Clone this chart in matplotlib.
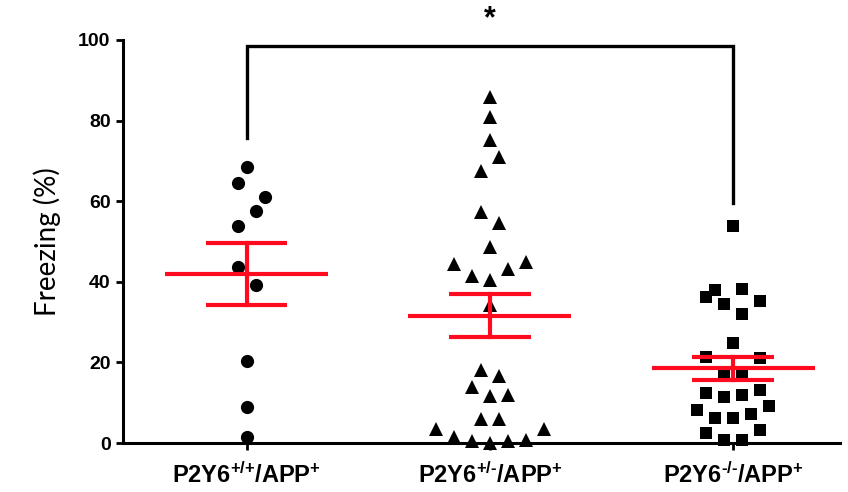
import numpy as np
import matplotlib
matplotlib.use("Agg")
import matplotlib.pyplot as plt

plt.rcParams['font.family'] = ['Liberation Sans', 'DejaVu Sans']
plt.rcParams['mathtext.fontset'] = 'custom'
plt.rcParams['mathtext.bf'] = 'Liberation Sans:bold'
plt.rcParams['mathtext.rm'] = 'Liberation Sans:bold'
plt.rcParams['mathtext.default'] = 'bf'

H = '\u2010'
categories = ["P2Y6$^{{+}{/}{+}}$/APP$^{+}$",
              "P2Y6$^{{+}{/}" + H + "}$/APP$^{+}$",
              "P2Y6$^{" + H + "{/}" + H + "}$/APP$^{+}$"]

wt_vals = [68.6, 64.6, 61.0, 57.6, 53.8, 43.6, 39.3, 20.4, 8.9, 1.4]
wt_off = [0, -1, 2, 1, -1, -1, 1, 0, 0, 0]

het_vals = [85.8, 81.0, 75.2, 70.9, 67.6, 57.4, 54.7, 48.6, 44.4, 45.0, 43.1, 41.4, 40.4,
            34.2, 18.1, 16.6, 14.0, 11.7, 11.8, 5.9, 5.9, 3.4, 3.4, 1.4, 0.6, 0.0, 0.6, 0.7]
het_off = [0, 0, 0, 1, -1, -1, 1, 0, -4, 4, 2, -2, 0,
           0, -1, 1, -2, 0, 2, -1, 1, -6, 6, -4, -2, 0, 2, 4]

ko_vals = [53.8, 38.0, 36.3, 38.3, 34.5, 35.3, 32.0, 24.7, 21.4, 21.1, 17.6, 17.6, 12.5,
           13.2, 11.5, 11.8, 8.2, 9.2, 6.2, 6.2, 7.2, 2.6, 3.2, 0.7, 0.7]
ko_off = [0, -2, -3, 1, -1, 3, 1, 0, -3, 3, -1, 1, -3,
          3, -1, 1, -4, 4, -2, 0, 2, -3, 3, -1, 1]

groups = [wt_vals, het_vals, ko_vals]
offsets = [wt_off, het_off, ko_off]
markers = ['o', '^', 's']
yticks = [0, 20, 40, 60, 80, 100]

fig = plt.figure(figsize=(8.48, 4.92), dpi=100)
ax = fig.add_axes([123/848, 1-443/492, (840-123)/848, (443-40)/492])

step = 0.037
red = '#ff0a1e'
for i, (vals, offs, m) in enumerate(zip(groups, offsets, markers)):
    x = i + 1
    xs = [x + o*step for o in offs]
    ms = 9.5 if m == 'o' else (10 if m == '^' else 9)
    ax.plot(xs, vals, linestyle='none', marker=m, color='black', markersize=ms,
            markeredgewidth=0, clip_on=False, zorder=3)
    v = np.array(vals)
    mean = v.mean()
    sem = v.std(ddof=1)/np.sqrt(len(v))
    ax.plot([x-0.335, x+0.335], [mean, mean], color=red, lw=3.0, zorder=4, solid_capstyle='butt')
    ax.plot([x-0.168, x+0.168], [mean+sem, mean+sem], color=red, lw=3.0, zorder=4, solid_capstyle='butt')
    ax.plot([x-0.168, x+0.168], [mean-sem, mean-sem], color=red, lw=3.0, zorder=4, solid_capstyle='butt')
    ax.plot([x, x], [mean-sem, mean+sem], color=red, lw=3.0, zorder=4)

# significance bracket
ax.plot([1, 1, 3, 3], [75.7, 98.5, 98.5, 59.5], color='black', lw=2.4, clip_on=False,
        solid_joinstyle='miter')
ax.text(2, 105.2, '*', ha='center', va='center', fontsize=22, fontweight='bold',
        clip_on=False)

ax.set_xlim(0.4926, 3.438)
ax.set_ylim(0, 100)
ax.set_yticks(yticks)
ax.set_yticklabels([str(t) for t in yticks], fontsize=14, fontweight='bold')
ax.set_xticks([1, 2, 3])
ax.set_xticklabels(categories, fontsize=17, fontweight='bold')
for s in ['top', 'right']:
    ax.spines[s].set_visible(False)
for s in ['left', 'bottom']:
    ax.spines[s].set_linewidth(2.2)
ax.tick_params(axis='both', width=2.0, length=5, direction='out')
ax.tick_params(axis='x', pad=9)
ax.tick_params(axis='y', pad=4)
ax.set_ylabel('Freezing (%)', fontsize=20, family=['Lato', 'DejaVu Sans'], labelpad=12)

fig.savefig('out.png', dpi=100)
